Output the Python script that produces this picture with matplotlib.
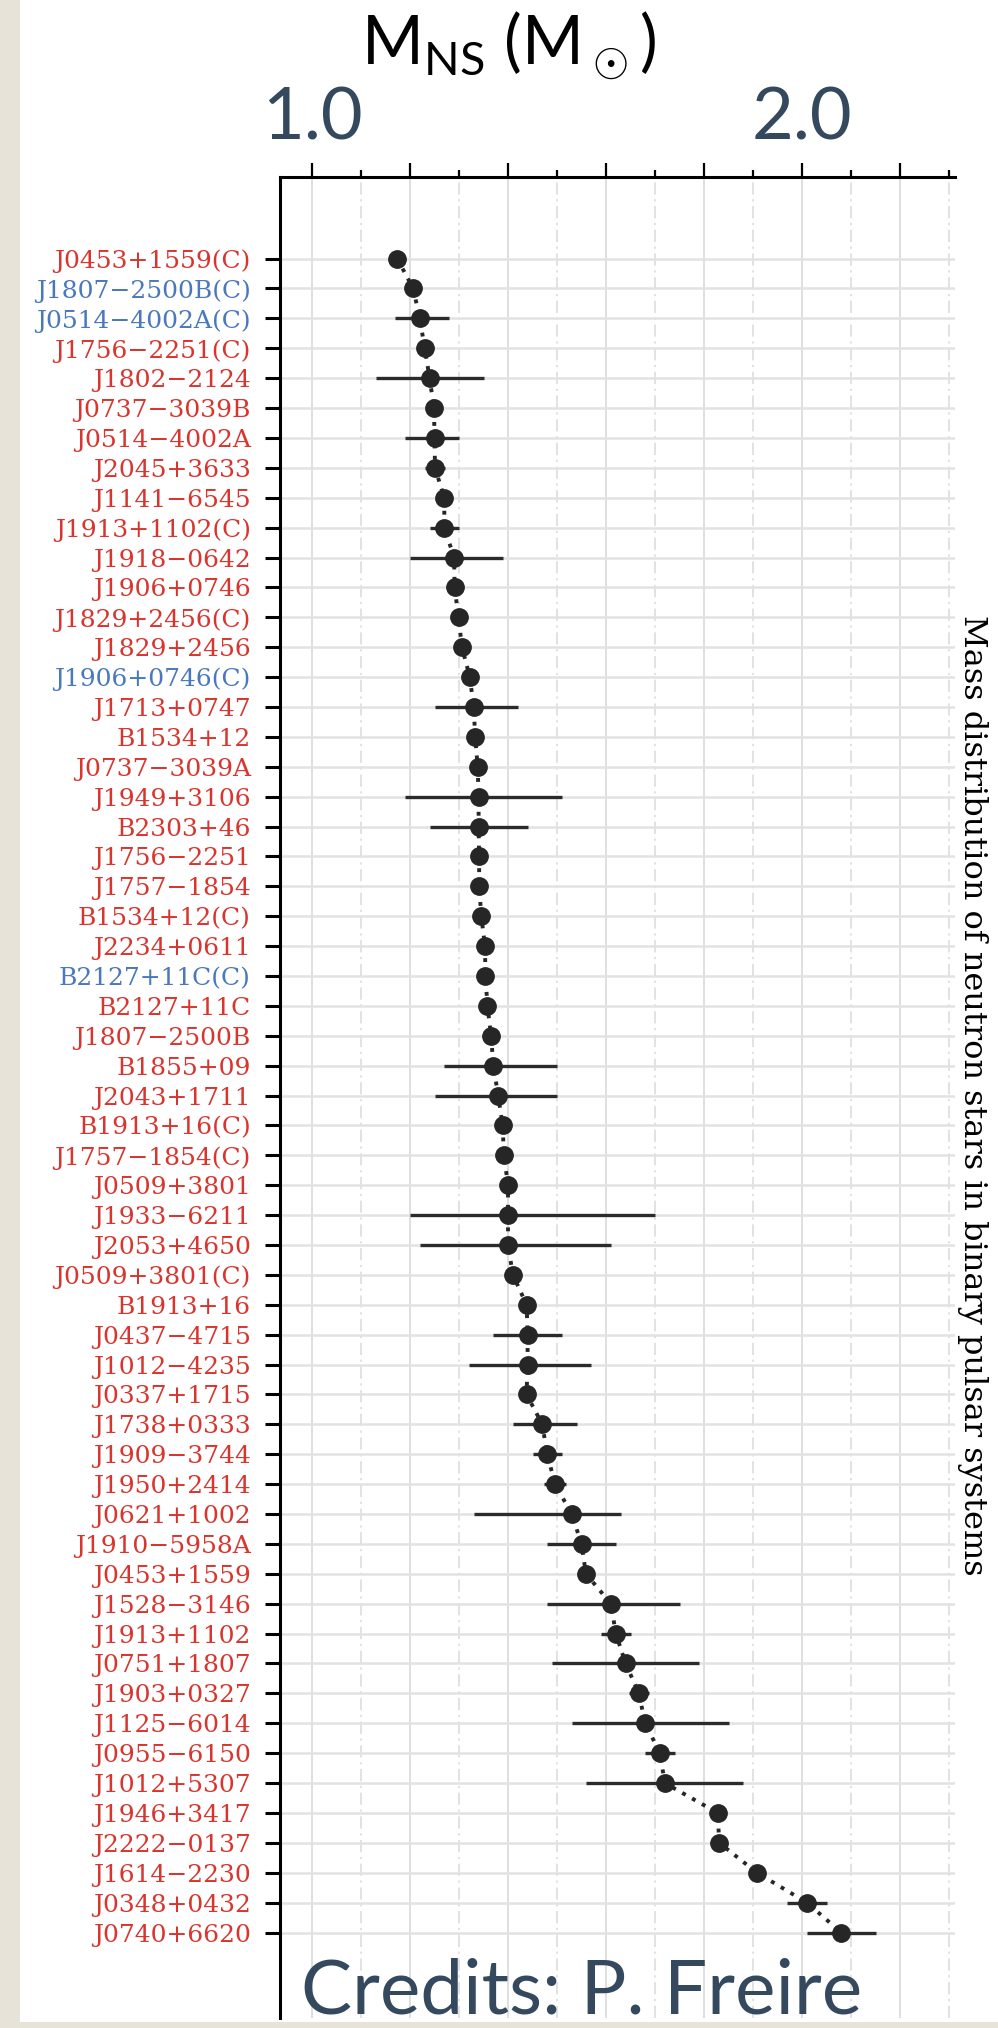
import matplotlib
matplotlib.use("Agg")
import matplotlib.pyplot as plt
from matplotlib.patches import Rectangle
from matplotlib.ticker import FixedLocator, FuncFormatter

# --- datos ---------------------------------------------------------------
names = [
    "J0453+1559(C)", "J1807\u22122500B(C)", "J0514\u22124002A(C)", "J1756\u22122251(C)",
    "J1802\u22122124", "J0737\u22123039B", "J0514\u22124002A", "J2045+3633",
    "J1141\u22126545", "J1913+1102(C)", "J1918\u22120642", "J1906+0746",
    "J1829+2456(C)", "J1829+2456", "J1906+0746(C)", "J1713+0747",
    "B1534+12", "J0737\u22123039A", "J1949+3106", "B2303+46",
    "J1756\u22122251", "J1757\u22121854", "B1534+12(C)", "J2234+0611",
    "B2127+11C(C)", "B2127+11C", "J1807\u22122500B", "B1855+09",
    "J2043+1711", "B1913+16(C)", "J1757\u22121854(C)", "J0509+3801",
    "J1933\u22126211", "J2053+4650", "J0509+3801(C)", "B1913+16",
    "J0437\u22124715", "J1012\u22124235", "J0337+1715", "J1738+0333",
    "J1909\u22123744", "J1950+2414", "J0621+1002", "J1910\u22125958A",
    "J0453+1559", "J1528\u22123146", "J1913+1102", "J0751+1807",
    "J1903+0327", "J1125\u22126014", "J0955\u22126150", "J1012+5307",
    "J1946+3417", "J2222\u22120137", "J1614\u22122230", "J0348+0432",
    "J0740+6620",
]
mass = [
    1.174, 1.2064, 1.22, 1.230, 1.24, 1.2489, 1.25, 1.251, 1.27, 1.27,
    1.29, 1.291, 1.299, 1.306, 1.322, 1.33, 1.333, 1.3381, 1.34, 1.34,
    1.341, 1.3412, 1.3455, 1.353, 1.354, 1.358, 1.3655, 1.37, 1.38, 1.389,
    1.3917, 1.40, 1.40, 1.40, 1.41, 1.438, 1.44, 1.44, 1.4378, 1.47,
    1.48, 1.496, 1.53, 1.55, 1.559, 1.61, 1.62, 1.64, 1.667, 1.68,
    1.71, 1.72, 1.828, 1.831, 1.908, 2.01, 2.08,
]
err_lo = [
    0, 0, 0.05, 0, 0.11, 0, 0.06, 0.021, 0, 0.03,
    0.09, 0, 0, 0, 0, 0.08, 0, 0, 0.15, 0.10,
    0, 0, 0, 0, 0, 0, 0, 0.10, 0.13, 0,
    0, 0, 0.20, 0.18, 0, 0, 0.07, 0.12, 0, 0.06,
    0.03, 0.023, 0.20, 0.07, 0, 0.13, 0.03, 0.15, 0.02, 0.15,
    0.03, 0.16, 0, 0, 0, 0.04, 0.07,
]
err_hi = [
    0, 0, 0.06, 0, 0.11, 0, 0.05, 0.021, 0, 0.03,
    0.10, 0, 0, 0, 0, 0.09, 0, 0, 0.17, 0.10,
    0, 0, 0, 0, 0, 0, 0, 0.13, 0.12, 0,
    0, 0, 0.30, 0.21, 0, 0, 0.07, 0.13, 0, 0.07,
    0.03, 0.023, 0.10, 0.07, 0, 0.14, 0.03, 0.15, 0.02, 0.17,
    0.03, 0.16, 0, 0, 0, 0.04, 0.07,
]
blue_rows = [1, 2, 14, 24]
x_major = [1.0, 1.2, 1.4, 1.6, 1.8, 2.0, 2.2]
x_minor = [1.1, 1.3, 1.5, 1.7, 1.9, 2.1, 2.3]
x_labels = {1.0: "1.0", 2.0: "2.0"}

# --- estilo ----------------------------------------------------------------
SANS = "Lato"
SERIF = "DejaVu Serif"
RED, BLUE = "#d8352e", "#4a78bd"
SLATE = "#34495e"
INK = "#262626"
BEIGE = "#e7e3d9"

plt.rcParams["mathtext.fontset"] = "custom"
plt.rcParams["mathtext.rm"] = SANS

fig = plt.figure(figsize=(9.98, 20.28), dpi=100)
fig.patch.set_facecolor(BEIGE)
fig.add_artist(Rectangle((20 / 998, 6 / 2028), 1, 1, transform=fig.transFigure,
                         facecolor="white", edgecolor="none", zorder=-5))

ax = fig.add_axes([280 / 998, 10 / 2028, 675 / 998, 1841 / 2028])
ax.set_facecolor("none")

y = list(range(len(names)))

ax.plot(mass, y, linestyle=(0, (1, 1.9)), color=INK, linewidth=2.8, zorder=2)
ax.errorbar(mass, y, xerr=[err_lo, err_hi], fmt="o", markersize=12.5,
            color=INK, ecolor="#2b2b2b", elinewidth=2.4, capsize=0, zorder=3)

ax.set_xlim(0.9347, 2.3122)
ax.set_ylim(58.86, -2.73)

# eje superior
ax.xaxis.tick_top()
ax.xaxis.set_major_locator(FixedLocator(x_major))
ax.xaxis.set_minor_locator(FixedLocator(x_minor))
ax.xaxis.set_major_formatter(FuncFormatter(lambda v, p: x_labels.get(round(v, 1), "")))
ax.tick_params(axis="x", which="major", length=10, width=1.6, pad=8,
               labelsize=52, labelcolor=SLATE, color="black")
ax.tick_params(axis="x", which="minor", length=5, width=1.6, color="black")
for lab in ax.get_xticklabels():
    lab.set_fontfamily(SANS)

ax.set_yticks(y)
ax.set_yticklabels(names, fontfamily=SERIF, fontsize=18)
ax.tick_params(axis="y", length=11, width=2.2, pad=10, color="black")
for i, lab in enumerate(ax.get_yticklabels()):
    lab.set_color(BLUE if i in blue_rows else RED)

for side in ("right", "bottom"):
    ax.spines[side].set_visible(False)
for side in ("top", "left"):
    ax.spines[side].set_linewidth(2.2)
    ax.spines[side].set_color("black")

ax.grid(axis="x", which="major", color="#d9d9d9", linewidth=1.2, zorder=0)
ax.grid(axis="x", which="minor", color="#dadada", linewidth=1.1,
        linestyle=(0, (8, 3, 1.5, 3)), zorder=0)
ax.grid(axis="y", which="major", color="#e2e2e2", linewidth=1.8, zorder=0)
ax.set_axisbelow(True)

# textos
fig.text(0.51, 1 - 46 / 2028, r"M$_{\rm NS}$ (M$_\odot$)", ha="center", va="center",
         fontsize=48, color="black", family=SANS)
fig.text(0.974, 1 - 1095 / 2028, "Mass distribution of neutron stars in binary pulsar systems",
         rotation=270, ha="center", va="center", fontsize=23, family=SERIF, color="black")
fig.text(582 / 998, 1 - 2013 / 2028, "Credits: P. Freire", ha="center", va="baseline",
         fontsize=55, color=SLATE, family=SANS)

fig.savefig("out.png", dpi=100, facecolor=fig.get_facecolor())
